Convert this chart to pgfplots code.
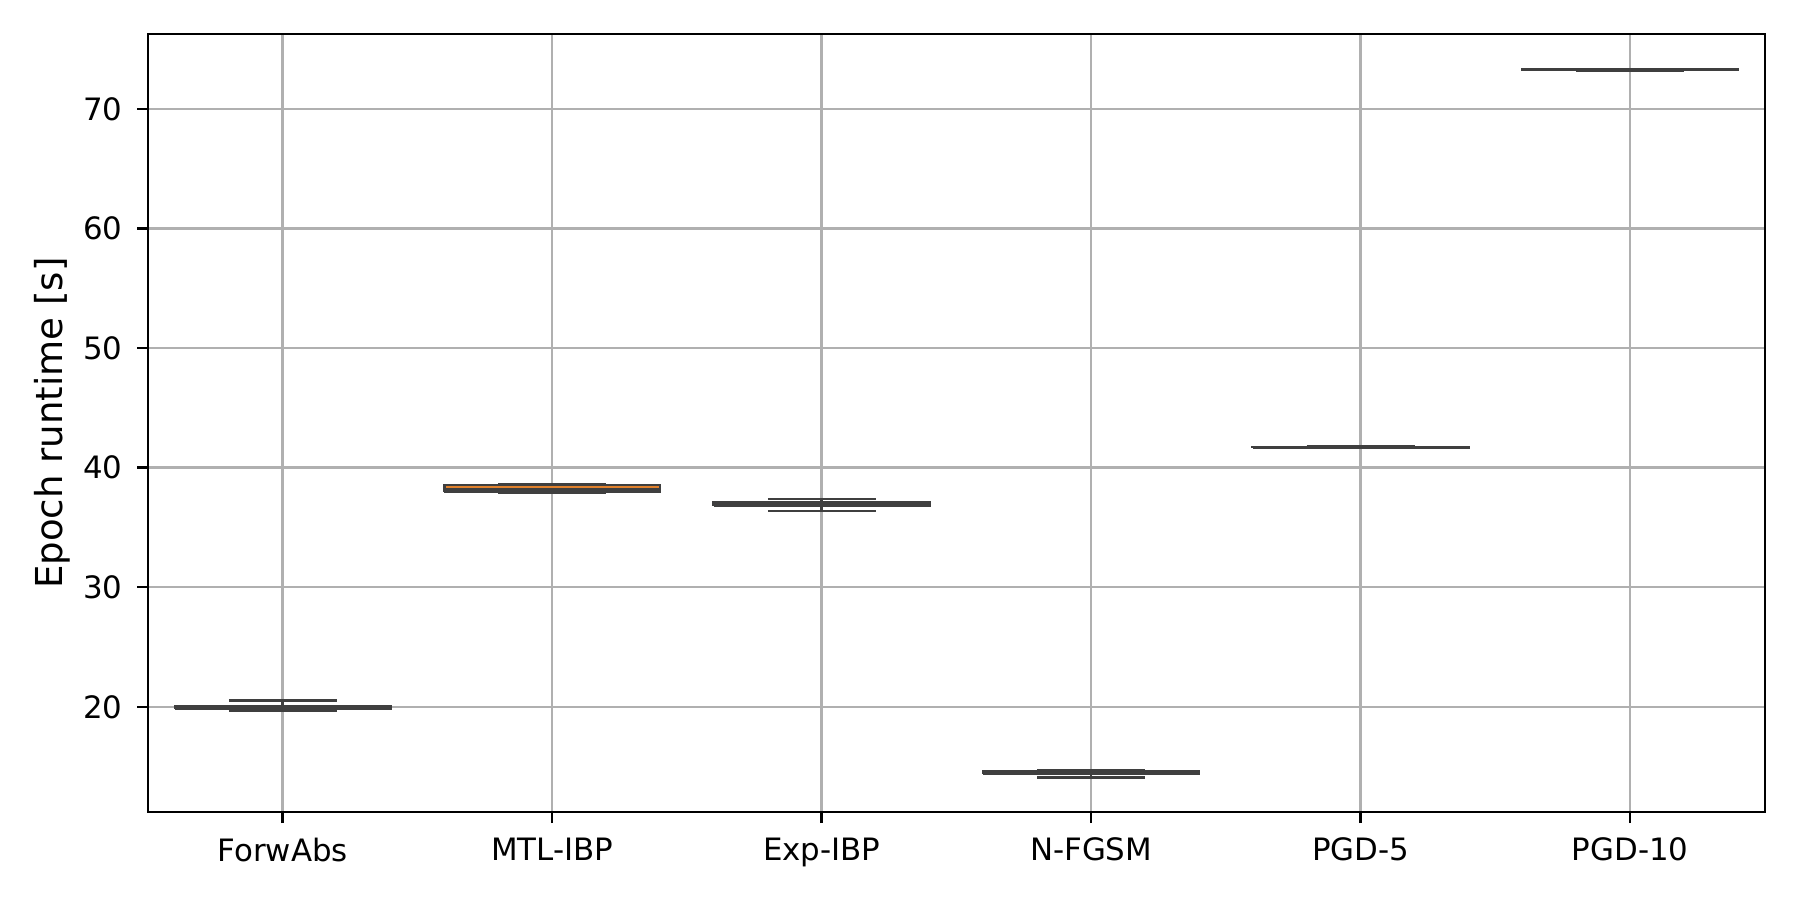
\documentclass[border=0pt]{standalone}
\usepackage{pgfplots}
\pgfplotsset{compat=1.18}
\usepackage{fontspec}
\setmainfont{DejaVu Sans}
\definecolor{boxgray}{RGB}{63,63,63}
\definecolor{gridgray}{RGB}{176,176,176}
\definecolor{sbblue}{HTML}{3274A1}
\definecolor{sborange}{HTML}{E1812C}
\definecolor{sbgreen}{HTML}{3A923A}
\definecolor{sbred}{HTML}{C03D3E}
\definecolor{sbpurple}{HTML}{9372B2}
\definecolor{sbbrown}{HTML}{845B53}
\pgfplotsset{wk/.style={draw=boxgray, line width=0.65pt, mark=none}}
\begin{document}
\begin{tikzpicture}
\begin{axis}[
  scale only axis,
  width=388pt, height=186.7pt,
  xmin=-0.5, xmax=5.5,
  ymin=11.19, ymax=76.24,
  xtick={0,1,2,3,4,5},
  xticklabels={ForwAbs,MTL-IBP,Exp-IBP,N-FGSM,PGD-5,PGD-10},
  ytick={20,30,40,50,60,70},
  tick pos=left,
  tick align=outside,
  major tick length=2.6pt,
  tick style={black, line width=0.58pt},
  axis line style={black, line width=0.58pt},
  grid=major,
  major grid style={gridgray, line width=0.58pt},
  ticklabel style={font=\fontsize{7.4}{9}\selectfont},
  /pgf/number format/assume math mode=true,
  ylabel={Epoch runtime [s]},
  every axis y label/.style={at={([xshift=-23pt]axis description cs:0,0.5)}, rotate=90, anchor=center, font=\fontsize{8.9}{10.5}\selectfont},
]
% ForwAbs: whiskers 19.66/20.50, box 19.85-20.02, median 19.93
\addplot[wk, fill=sbblue] coordinates {(-0.4,19.85) (0.4,19.85) (0.4,20.02) (-0.4,20.02) (-0.4,19.85)};
\addplot[wk] coordinates {(-0.4,19.93) (0.4,19.93)};
\addplot[wk] coordinates {(0,20.02) (0,20.50)};
\addplot[wk] coordinates {(0,19.85) (0,19.66)};
\addplot[wk] coordinates {(-0.2,20.50) (0.2,20.50)};
\addplot[wk] coordinates {(-0.2,19.66) (0.2,19.66)};
% MTL-IBP: whiskers 37.90/38.64, box 37.95-38.55, median 38.18
\addplot[wk, fill=sborange] coordinates {(0.6,37.95) (1.4,37.95) (1.4,38.55) (0.6,38.55) (0.6,37.95)};
\addplot[wk] coordinates {(0.6,38.18) (1.4,38.18)};
\addplot[wk] coordinates {(1,38.55) (1,38.64)};
\addplot[wk] coordinates {(1,37.95) (1,37.90)};
\addplot[wk] coordinates {(0.8,38.64) (1.2,38.64)};
\addplot[wk] coordinates {(0.8,37.90) (1.2,37.90)};
% Exp-IBP: whiskers 36.38/37.38, box 36.78-37.10, median 36.95
\addplot[wk, fill=sbgreen] coordinates {(1.6,36.78) (2.4,36.78) (2.4,37.10) (1.6,37.10) (1.6,36.78)};
\addplot[wk] coordinates {(1.6,36.95) (2.4,36.95)};
\addplot[wk] coordinates {(2,37.10) (2,37.38)};
\addplot[wk] coordinates {(2,36.78) (2,36.38)};
\addplot[wk] coordinates {(1.8,37.38) (2.2,37.38)};
\addplot[wk] coordinates {(1.8,36.38) (2.2,36.38)};
% N-FGSM: whiskers 14.09/14.65, box 14.40-14.59, median 14.50
\addplot[wk, fill=sbred] coordinates {(2.6,14.40) (3.4,14.40) (3.4,14.59) (2.6,14.59) (2.6,14.40)};
\addplot[wk] coordinates {(2.6,14.50) (3.4,14.50)};
\addplot[wk] coordinates {(3,14.59) (3,14.65)};
\addplot[wk] coordinates {(3,14.40) (3,14.09)};
\addplot[wk] coordinates {(2.8,14.65) (3.2,14.65)};
\addplot[wk] coordinates {(2.8,14.09) (3.2,14.09)};
% PGD-5: whiskers 41.63/41.78, box 41.69-41.72, median 41.70
\addplot[wk, fill=sbpurple] coordinates {(3.6,41.69) (4.4,41.69) (4.4,41.72) (3.6,41.72) (3.6,41.69)};
\addplot[wk] coordinates {(3.6,41.70) (4.4,41.70)};
\addplot[wk] coordinates {(4,41.72) (4,41.78)};
\addplot[wk] coordinates {(4,41.69) (4,41.63)};
\addplot[wk] coordinates {(3.8,41.78) (4.2,41.78)};
\addplot[wk] coordinates {(3.8,41.63) (4.2,41.63)};
% PGD-10: whiskers 73.16/73.34, box 73.24-73.28, median 73.26
\addplot[wk, fill=sbbrown] coordinates {(4.6,73.24) (5.4,73.24) (5.4,73.28) (4.6,73.28) (4.6,73.24)};
\addplot[wk] coordinates {(4.6,73.26) (5.4,73.26)};
\addplot[wk] coordinates {(5,73.28) (5,73.34)};
\addplot[wk] coordinates {(5,73.24) (5,73.16)};
\addplot[wk] coordinates {(4.8,73.34) (5.2,73.34)};
\addplot[wk] coordinates {(4.8,73.16) (5.2,73.16)};
\end{axis}
\pgfresetboundingbox
\useasboundingbox ([shift={(-35.5pt,-21.1pt)}]current axis.south west) rectangle ([shift={(8.2pt,8.2pt)}]current axis.north east);
\end{tikzpicture}
\end{document}
